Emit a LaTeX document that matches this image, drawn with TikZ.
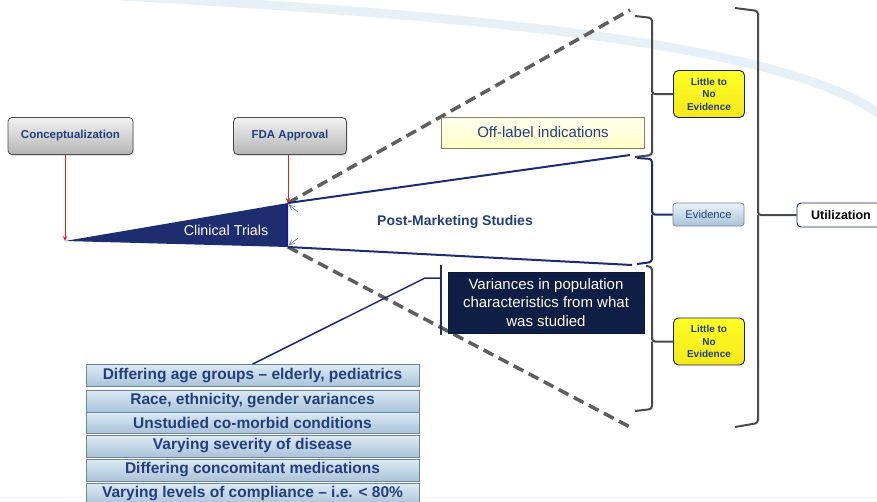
\documentclass[tikz,border=0pt]{standalone}
\usepackage{fontspec}
\setmainfont{Liberation Sans}
\usetikzlibrary{arrows.meta,shadows}
\definecolor{navy}{HTML}{1E2D70}
\definecolor{txtblue}{HTML}{243E7C}
\definecolor{bgblue}{HTML}{E8F0F7}
\definecolor{redarrow}{HTML}{D42A2A}
\definecolor{dashgray}{HTML}{5E5E5E}
\definecolor{brgray}{HTML}{4A4A4A}
\definecolor{yellowbox}{HTML}{F4E71A}
\definecolor{darkbox}{HTML}{0F1E45}
\definecolor{listtop}{HTML}{DCEAF5}
\definecolor{listbot}{HTML}{A9C3D9}
\definecolor{listedge}{HTML}{6E8499}
\tikzset{
  graybox/.style={draw=gray!60!black, line width=0.8pt, rounded corners=4pt,
    top color=gray!10, bottom color=gray!58, text=txtblue,
    font=\fontsize{11.5}{13}\selectfont\bfseries, minimum width=125pt, minimum height=37pt,
    drop shadow={opacity=0.25, shadow xshift=1pt, shadow yshift=-1.5pt}},
  yelbox/.style={draw=navy!70!black, line width=0.9pt, rounded corners=5pt,
    top color=yellow!85!white, bottom color=yellowbox, text=txtblue,
    font=\fontsize{10}{12.5}\selectfont\bfseries, align=center,
    minimum width=71pt, minimum height=47pt, inner sep=1pt},
  evbox/.style={draw=navy!60, line width=0.8pt, rounded corners=3pt,
    top color=listtop!60!white, bottom color=listbot, text=txtblue,
    font=\fontsize{11.2}{13}\selectfont, minimum width=71pt, minimum height=23pt, inner sep=1pt},
  listbox/.style={draw=listedge, line width=0.7pt,
    top color=listtop, bottom color=listbot, text=txtblue,
    font=\fontsize{15.5}{17}\selectfont\bfseries, minimum width=333pt, minimum height=22pt, inner sep=0pt},
  redarr/.style={draw=redarrow, line width=1pt, -{Stealth[length=5pt,width=4.5pt]}},
  dashln/.style={draw=dashgray, line width=3.5pt, dash pattern=on 11pt off 6pt},
  blueln/.style={draw=navy, line width=2pt},
  brk/.style={draw=brgray, line width=2pt, rounded corners=3pt},
  bbrk/.style={draw=navy, line width=2pt, rounded corners=3pt},
  tipmark/.style={draw=navy!70, line width=0.6pt, -{Straight Barb[length=5pt,width=5pt]}}
}
\begin{document}
\begin{tikzpicture}[x=1pt,y=-1pt]
\useasboundingbox (0,0) rectangle (877,501);
% background decorations
\draw[bgblue, line width=9pt] (120,-4) .. controls (480,16) and (790,44) .. (885,118);
\draw[bgblue!80, line width=0.8pt] (0,497) -- (877,497);

% key points of the funnel
\coordinate (tip) at (65,241);
\coordinate (tr) at (288,203);
\coordinate (br) at (288,247);
\coordinate (dtop) at (630,10);
\coordinate (dbot) at (630,427);
\coordinate (btop) at (630,155);
\coordinate (bbot) at (632,265);

% dashed and blue lines
\draw[dashln] (tr) -- (dtop);
\draw[dashln] (br) -- (dbot);
\draw[blueln] (tr) -- (btop);
\draw[blueln] (br) -- (bbot);

% clinical trials triangle
\fill[navy] (tip) -- (tr) -- (br) -- cycle;
\draw[blue!45!navy, line width=2pt] (287,204) -- (287,246);
\node[text=white, font=\fontsize{14.3}{16}\selectfont] (ct) at (226,230) {Clinical Trials};
\draw[tipmark] (298,212) -- (289,205);
\draw[tipmark] (298,238) -- (289,245);

% top boxes
\node[graybox] (concept) at (70.5,136) {Conceptualization};
\node[graybox, minimum width=113pt] (fda) at (290,136) {FDA Approval};
\draw[redarr] (concept.south -| tip) -- (tip);
\draw[redarr] (fda.south -| tr) -- (tr);

% texts in the funnel
\node[draw=gray!55!yellow!60!black, line width=0.8pt, top color=yellow!6, bottom color=yellow!22!white,
  text=txtblue, font=\fontsize{15}{17}\selectfont, minimum width=203pt, minimum height=31pt, inner sep=0pt]
  (offl) at (543,132.5) {Off-label indications};
\node[text=txtblue, font=\fontsize{14}{16}\selectfont\bfseries] (pms) at (455,222) {Post-Marketing Studies};

% variances box
\node[fill=darkbox, draw=navy!50!black, line width=0.8pt, text=white!92!yellow, align=center,
  font=\fontsize{15}{18.5}\selectfont, minimum width=196pt, minimum height=61pt, inner sep=1pt]
  (var) at (546,302.5) {Variances in population\\characteristics from what\\was studied};
\coordinate (vbt) at (441,265);
\coordinate (vbb) at (441,335);
\draw[navy, line width=2pt] (vbt) -- (vbb);

% list
\node[listbox] (l1) at (252.5,375.5) {Differing age groups -- elderly, pediatrics};
\node[listbox] (l2) at (252.5,401) {Race, ethnicity, gender variances};
\node[listbox, minimum height=21pt] (l3) at (252.5,422.5) {Unstudied co-morbid conditions};
\node[listbox] (l4) at (252.5,446) {Varying severity of disease};
\node[listbox] (l5) at (252.5,470) {Differing concomitant medications};
\node[listbox] (l6) at (252.5,494) {Varying levels of compliance -- i.e. < 80\%};
\coordinate (vk) at (425,278);
\draw[navy, line width=1.5pt] (l1.north) -- (vk) -- (vk -| vbt);

% evidence boxes
\node[yelbox] (lne1) at (709,94) {Little to\\No\\Evidence};
\node[evbox] (ev) at (708.5,214.5) {Evidence};
\node[yelbox] (lne2) at (709,341.5) {Little to\\No\\Evidence};
\node[draw=navy!80!black, line width=0.9pt, rounded corners=4pt, fill=white, text=black,
  font=\fontsize{12.5}{14}\selectfont\bfseries, minimum width=88pt, minimum height=24pt, inner sep=1pt]
  (util) at (841,215) {Utilization};

% brackets
\coordinate (b1t) at (635,16);
\coordinate (b1b) at (635,157);
\draw[brk] (b1t) -- (652,18) -- (652,94) -- (lne1.west);
\draw[brk] (652,94) -- (652,155) -- (b1b);
\coordinate (b2t) at (637,158);
\coordinate (b2b) at (637,264);
\draw[bbrk] (b2t) -- (652,159) -- (652,214.5) -- (ev.west);
\draw[bbrk] (652,214.5) -- (652,262) -- (b2b);
\coordinate (b3t) at (646,266);
\coordinate (b3b) at (635,411);
\draw[brk] (b3t) -- (652,267) -- (652,341.5) -- (lne2.west);
\draw[brk] (652,341.5) -- (652,409) -- (b3b);
\coordinate (b4t) at (735,8);
\coordinate (b4b) at (735,427);
\draw[brk] (b4t) -- (758,11) -- (758,215) -- (util.west);
\draw[brk] (758,215) -- (758,423) -- (b4b);
\end{tikzpicture}
\end{document}
